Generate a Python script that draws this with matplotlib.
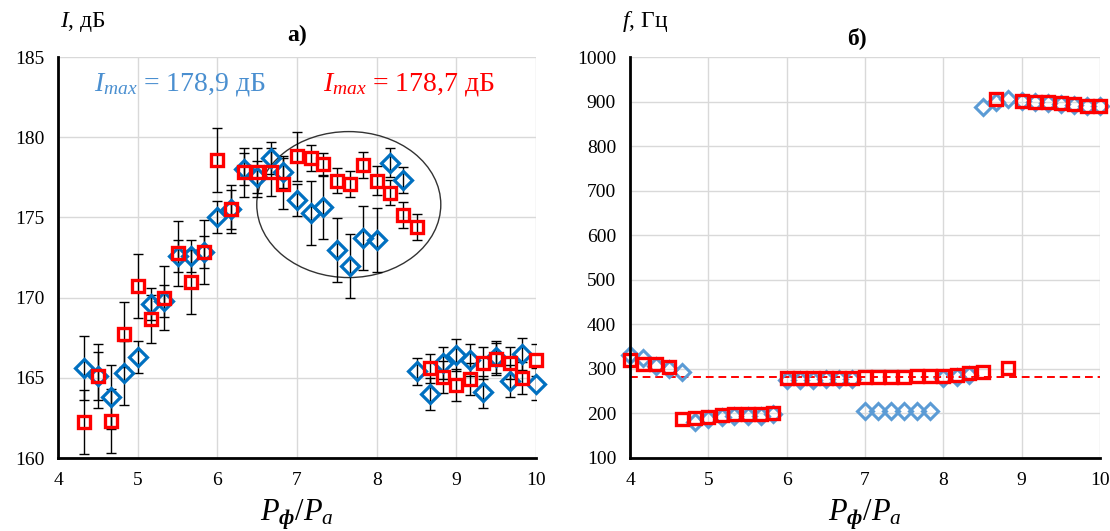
import matplotlib.pyplot as plt
from matplotlib.patches import Ellipse

plt.rcParams['font.family'] = ['Liberation Serif', 'DejaVu Serif']
plt.rcParams['mathtext.fontset'] = 'custom'
plt.rcParams['mathtext.rm'] = 'Liberation Serif'
plt.rcParams['mathtext.it'] = 'Liberation Serif:italic'
plt.rcParams['mathtext.bf'] = 'Liberation Serif:bold'
plt.rcParams['mathtext.bfit'] = 'Liberation Serif:bold:italic'

# ---- данные: панель а) интенсивность ----
x_a = [4.33, 4.5, 4.67, 4.83, 5.0, 5.17, 5.33, 5.5, 5.67, 5.83, 6.0, 6.17,
       6.33, 6.5, 6.67, 6.83, 7.0, 7.17, 7.33, 7.5, 7.67, 7.83, 8.0, 8.17,
       8.33, 8.5, 8.67, 8.83, 9.0, 9.17, 9.33, 9.5, 9.67, 9.83, 10.0]
I_blue = [165.6, 165.1, 163.8, 165.3, 166.3, 169.6, 169.8, 172.6, 172.6, 172.85,
          175.05, 175.5, 178.0, 177.5, 178.7, 177.85, 176.1, 175.25, 175.65, 172.95,
          171.95, 173.7, 173.6, 178.4, 177.35, 165.4, 164.0, 165.9, 166.4, 166.1,
          164.1, 166.3, 164.8, 166.5, 164.6]
err_blue = [2.0, 2.0, 2.0, 2.0, 1.0, 1.0, 1.0, 1.0, 1.0, 1.0,
            1.0, 1.2, 1.0, 1.0, 1.0, 1.0, 1.0, 2.0, 2.0, 2.0,
            2.0, 2.0, 2.0, 0.9, 0.8, 0.85, 1.0, 1.0, 1.0, 1.0,
            1.0, 1.0, 1.0, 1.0, 1.0]
I_red = [162.25, 165.1, 162.3, 167.7, 170.7, 168.65, 170.0, 172.75, 170.95, 172.85,
         178.6, 175.55, 177.8, 177.8, 177.85, 177.1, 178.8, 178.7, 178.3, 177.3,
         177.1, 178.25, 177.3, 176.55, 175.15, 174.4, 165.6, 165.05, 164.55, 164.95,
         165.95, 166.15, 165.95, 165.0, 166.1]
err_red = [2.0, 1.5, 2.0, 2.0, 2.0, 1.5, 2.0, 2.0, 2.0, 2.0,
           2.0, 1.5, 1.5, 1.5, 1.5, 1.6, 1.5, 0.8, 0.7, 0.8,
           0.8, 0.8, 0.9, 0.8, 0.8, 0.8, 0.9, 1.0, 1.0, 1.0,
           1.0, 1.0, 1.0, 1.0, 1.0]

# ---- данные: панель б) частота ----
x_b = [4.0, 4.17, 4.33, 4.5, 4.67, 4.83, 5.0, 5.17, 5.33, 5.5, 5.67, 5.83,
       6.0, 6.17, 6.33, 6.5, 6.67, 6.83, 7.0, 7.17, 7.33, 7.5, 7.67, 7.83,
       8.0, 8.17, 8.33, 8.5, 8.67, 8.83, 9.0, 9.17, 9.33, 9.5, 9.67, 9.83, 10.0]
f_blue = [331, 324, 307, 299, 294, 181, 187, 192, 194, 195, 195, 199,
          276, 276, 276, 277, 277, 277, 205, 205, 205, 205, 205, 206,
          280, 282, 286, 887, 898, 905, 902, 899, 897, 895, 893, 891, 890]
f_red = [319, 311, 310, 305, 187, 189, 192, 196, 198, 198, 199, 202,
         279, 279, 279, 280, 280, 280, 281, 281, 281, 282, 283, 284,
         284, 286, 290, 294, 905, 301, 902, 900, 898, 896, 894, 891, 889]
f_ref = 281

BLUE_A = '#0070C0'
BLUE_B = '#5B9BD5'
RED = '#FF0000'
GRID = '#D9D9D9'

fig = plt.figure(figsize=(11.1, 5.31), dpi=100)
ax1 = fig.add_axes([58 / 1110, 73 / 531, 478 / 1110, 401 / 531])
ax2 = fig.add_axes([630 / 1110, 73 / 531, 470 / 1110, 401 / 531])

for ax in (ax1, ax2):
    ax.set_xlim(4, 10)
    ax.set_xticks(range(4, 11))
    ax.grid(True, color=GRID, lw=1)
    ax.set_axisbelow(True)
    for s in ('top', 'right'):
        ax.spines[s].set_visible(False)
    for s in ('left', 'bottom'):
        ax.spines[s].set_linewidth(2)
        ax.spines[s].set_color('black')
    ax.tick_params(length=0, labelsize=14, pad=10)

# а)
ax1.set_ylim(160, 185)
ax1.set_yticks(range(160, 186, 5))
ax1.errorbar(x_a, I_blue, yerr=err_blue, fmt='none', ecolor='black', elinewidth=1,
             capsize=3.5, capthick=1)
ax1.errorbar(x_a, I_red, yerr=err_red, fmt='none', ecolor='black', elinewidth=1,
             capsize=3.5, capthick=1)
ax1.plot(x_a, I_blue, ls='none', marker='D', ms=9, mfc='none', mec=BLUE_A, mew=2.3,
         clip_on=False)
ax1.plot(x_a, I_red, ls='none', marker='s', ms=9, mfc='none', mec=RED, mew=2.4,
         clip_on=False)
ax1.add_patch(Ellipse((7.65, 175.8), 2.31, 9.1, fill=False, ec='#333333', lw=1))
ax1.text(4.45, 183.3, r'$I_{max}$ = 178,9 дБ', color='#4A8FD0', fontsize=20, va='center')
ax1.text(7.33, 183.3, r'$I_{max}$ = 178,7 дБ', color=RED, fontsize=20, va='center')

# б)
ax2.set_ylim(100, 1000)
ax2.set_yticks(range(100, 1001, 100))
ax2.axhline(f_ref, color=RED, ls='--', lw=1.4, dashes=(4, 2.5), zorder=1.5)
ax2.plot(x_b, f_blue, ls='none', marker='D', ms=8, mfc='none', mec=BLUE_B, mew=2.2,
         clip_on=False)
ax2.plot(x_b, f_red, ls='none', marker='s', ms=9, mfc='none', mec=RED, mew=2.4,
         clip_on=False)

# подписи
fig.text(60 / 1110, 1 - 22 / 531, r'$I$, дБ', fontsize=17, va='center')
fig.text(297 / 1110, 1 - 35 / 531, 'а)', fontsize=17, fontweight='bold', ha='center', va='center')
fig.text(622 / 1110, 1 - 22 / 531, r'$f$, Гц', fontsize=17, va='center')
fig.text(857 / 1110, 1 - 38 / 531, 'б)', fontsize=17, fontweight='bold', ha='center', va='center')
fig.text(297 / 1110, 1 - 515 / 531, r'$P_{\mathbfit{ф}}/P_a$', fontsize=22, ha='center', va='center')
fig.text(865 / 1110, 1 - 515 / 531, r'$P_{\mathbfit{ф}}/P_a$', fontsize=22, ha='center', va='center')

fig.savefig('out.png', dpi=100)
